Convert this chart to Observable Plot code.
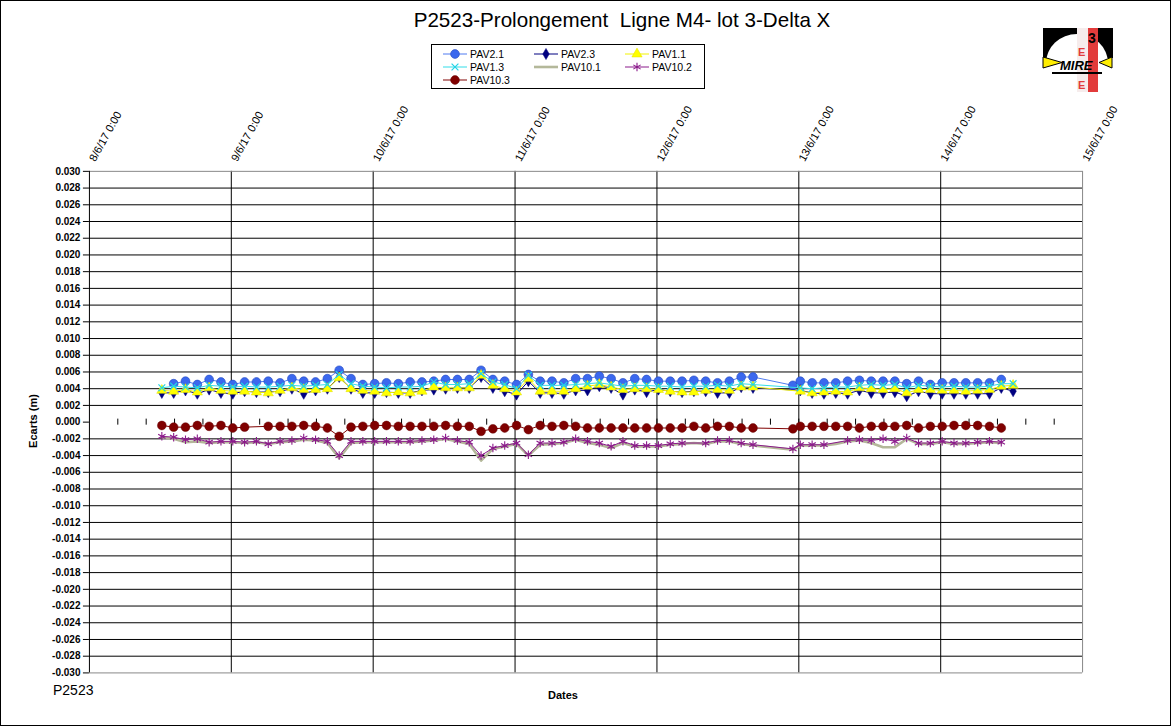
<!DOCTYPE html>
<html><head><meta charset="utf-8">
<script src="https://cdn.jsdelivr.net/npm/d3@7"></script>
<script src="https://cdn.jsdelivr.net/npm/@observablehq/plot@0.6"></script>
<style>
body{margin:0;background:#fff;font-family:Arial,"Liberation Sans",sans-serif;}
#wrap{position:relative;width:1169px;height:724px;border:1px solid #000;overflow:hidden;background:#fff;}
#chart{position:absolute;left:-1px;top:-1px;}
.abs{position:absolute;white-space:pre;color:#000;}
</style></head>
<body>
<div id="wrap">
  <div id="chart"></div>
  <div class="abs" id="title" style="left:321px;width:600px;top:7px;text-align:center;font-size:20.6px;">P2523-Prolongement  Ligne M4- lot 3-Delta X</div>
  <div class="abs" style="left:52px;top:681px;font-size:14px;">P2523</div>
  <div class="abs" style="left:512px;width:100px;top:688px;text-align:center;font-size:11px;font-weight:bold;">Dates</div>
  <div class="abs" style="left:-18px;width:100px;top:414px;text-align:center;font-size:11px;font-weight:bold;transform:rotate(-90deg);">Ecarts (m)</div>
  <svg id="legend" class="abs" style="left:430px;top:43px;" width="275" height="46"></svg>
  <svg class="abs" style="left:1041px;top:26px;" width="74" height="70" viewBox="1042 27 74 70">
    <rect x="1043" y="28" width="70" height="30" fill="#000"/>
    <ellipse cx="1077" cy="63" rx="31" ry="29" fill="#fff"/>
    <rect x="1043" y="58" width="70" height="36" fill="#fff"/>
    <rect x="1077" y="28" width="11" height="64" fill="#f6ecec"/>
    <rect x="1088" y="28" width="10" height="64" fill="#e23b3b"/>
    <text x="1088" y="43" font-size="14" font-weight="bold" font-family="Arial" fill="#000">3</text>
    <text x="1078" y="56" font-size="11" font-weight="bold" font-family="Arial" fill="#e23b3b">E</text>
    <text x="1078" y="89" font-size="11" font-weight="bold" font-family="Arial" fill="#e23b3b">E</text>
    <polygon points="1043,57 1043,68 1062,62.5" fill="#ffee00" stroke="#000" stroke-width="1"/>
    <polygon points="1112,57 1112,68 1099,62.5" fill="#ffee00" stroke="#000" stroke-width="1"/>
    <text x="1060" y="70" font-size="13" font-weight="bold" font-style="italic" font-family="Arial" fill="#000">MIRE</text>
    <rect x="1052" y="72" width="50" height="2" fill="#000"/>
  </svg>
</div>
<script>
// ---------- data ----------
const times = [
"2017-06-08 12:15","2017-06-08 14:15","2017-06-08 16:15","2017-06-08 18:15","2017-06-08 20:15","2017-06-08 22:15",
"2017-06-09 00:15","2017-06-09 02:15","2017-06-09 04:15","2017-06-09 06:15","2017-06-09 08:15","2017-06-09 10:15","2017-06-09 12:15","2017-06-09 14:15","2017-06-09 16:15","2017-06-09 18:15","2017-06-09 20:15","2017-06-09 22:15",
"2017-06-10 00:15","2017-06-10 02:15","2017-06-10 04:15","2017-06-10 06:15","2017-06-10 08:15","2017-06-10 10:15","2017-06-10 12:15","2017-06-10 14:15","2017-06-10 16:15","2017-06-10 18:15","2017-06-10 20:15","2017-06-10 22:15",
"2017-06-11 00:15","2017-06-11 02:15","2017-06-11 04:15","2017-06-11 06:15","2017-06-11 08:15","2017-06-11 10:15","2017-06-11 12:15","2017-06-11 14:15","2017-06-11 16:15","2017-06-11 18:15","2017-06-11 20:15","2017-06-11 22:15",
"2017-06-12 00:15","2017-06-12 02:15","2017-06-12 04:15","2017-06-12 06:15","2017-06-12 08:15","2017-06-12 10:15","2017-06-12 12:15","2017-06-12 14:15","2017-06-12 16:15",
"2017-06-12 23:00",
"2017-06-13 00:15","2017-06-13 02:15","2017-06-13 04:15","2017-06-13 06:15","2017-06-13 08:15","2017-06-13 10:15","2017-06-13 12:15","2017-06-13 14:15","2017-06-13 16:15","2017-06-13 18:15","2017-06-13 20:15","2017-06-13 22:15",
"2017-06-14 00:15","2017-06-14 02:15","2017-06-14 04:15","2017-06-14 06:15","2017-06-14 08:15","2017-06-14 10:15","2017-06-14 12:15"
];

const PAV2_1 = [
null,.0046,.0049,.0045,.0051,.0048,
.0045,.0048,.0048,.0049,.0047,.0052,.0049,.0048,.0052,.0062,.0052,.0045,
.0046,.0047,.0046,.0048,.0048,.0049,.0051,.0051,.0051,.0062,.0051,.0049,
.0045,.0057,.0049,.0049,.0047,.0052,.0052,.0055,.0052,.0047,.0052,.0051,
.0049,.0049,.0049,.0050,.0049,.0047,.0049,.0054,.0054,
.0044,
.0049,.0047,.0047,.0047,.0049,.0050,.0049,.0049,.0049,.0046,.0049,.0045,
.0047,.0047,.0047,.0047,.0047,.0051,null];

const PAV2_3 = [
.0035,.0035,.0038,.0034,.0039,.0035,
.0034,.0037,.0036,.0036,.0037,.0040,.0034,.0038,.0040,.0054,.0040,.0035,
.0035,.0036,.0035,.0035,.0038,.0039,.0040,.0041,.0041,.0054,.0041,.0037,
.0033,.0049,.0035,.0035,.0034,.0038,.0038,.0043,.0041,.0033,.0039,.0036,
.0039,.0037,.0036,.0037,.0037,.0035,.0035,.0042,.0041,
null,
.0038,.0035,.0034,.0035,.0034,.0038,.0035,.0035,.0036,.0031,.0037,.0034,
.0034,.0034,.0034,.0034,.0034,.0041,.0037];

const PAV1_1 = [
.0038,.0037,.0039,.0036,.0041,.0038,
.0037,.0037,.0036,.0035,.0038,.0041,.0039,.0039,.0040,.0053,.0040,.0038,
.0037,.0035,.0036,.0035,.0037,.0042,.0041,.0041,.0041,.0056,.0044,.0040,
.0036,.0052,.0037,.0037,.0037,.0040,.0043,.0045,.0042,.0039,.0040,.0040,
.0039,.0037,.0036,.0036,.0038,.0039,.0038,.0042,.0042,
null,
.0037,.0035,.0036,.0037,.0036,.0041,.0040,.0039,.0040,.0035,.0039,.0039,
.0038,.0038,.0037,.0038,.0039,.0043,.0044];

const PAV1_3 = [
.0041,.0043,.0042,.0041,.0044,.0043,
.0042,.0043,.0042,.0042,.0043,.0044,.0043,.0044,.0045,.0057,.0046,.0043,
.0042,.0041,.0042,.0042,.0043,.0048,.0045,.0045,.0046,.0058,.0048,.0045,
.0040,.0056,.0044,.0044,.0044,.0045,.0046,.0047,.0045,.0043,.0044,.0044,
.0043,.0043,.0042,.0043,.0043,.0044,.0043,.0046,.0045,
null,
.0041,.0040,.0041,.0042,.0042,.0044,.0045,.0044,.0045,.0041,.0044,.0043,
.0042,.0043,.0042,.0042,.0043,.0046,.0046];

const PAV10_1 = [
-.0018,-.0020,-.0024,-.0023,-.0025,-.0024,
-.0024,-.0025,-.0024,-.0026,-.0024,-.0023,-.0021,-.0022,-.0025,-.0043,-.0025,-.0024,
-.0024,-.0024,-.0024,-.0024,-.0023,-.0022,-.0020,-.0023,-.0026,-.0046,-.0032,-.0029,
-.0026,-.0040,-.0027,-.0026,-.0025,-.0021,-.0025,-.0027,-.0031,-.0025,-.0029,-.0029,
-.0029,-.0027,-.0026,-.0025,-.0026,-.0023,-.0023,-.0026,-.0028,
-.0033,
-.0028,-.0028,-.0028,-.0026,-.0023,-.0022,-.0025,-.0030,-.0030,-.0020,-.0026,-.0026,
-.0024,-.0026,-.0026,-.0025,-.0024,-.0025,null];

const PAV10_2 = [
-.0017,-.0018,-.0021,-.0020,-.0024,-.0023,
-.0023,-.0024,-.0023,-.0026,-.0023,-.0022,-.0019,-.0021,-.0023,-.0040,-.0023,-.0023,
-.0023,-.0023,-.0023,-.0023,-.0022,-.0021,-.0019,-.0022,-.0024,-.0040,-.0031,-.0028,
-.0025,-.0039,-.0025,-.0025,-.0024,-.0020,-.0023,-.0025,-.0029,-.0023,-.0028,-.0028,
-.0028,-.0026,-.0025,null,-.0025,-.0022,-.0022,-.0025,-.0027,
-.0032,
-.0027,-.0027,-.0027,null,-.0022,-.0021,-.0022,-.0020,-.0023,-.0019,-.0025,-.0025,
-.0023,-.0025,-.0025,-.0024,-.0023,-.0024,null];

const PAV10_3 = [
-.0004,-.0006,-.0006,-.0004,-.0005,-.0004,
-.0007,-.0006,null,-.0005,-.0005,-.0005,-.0004,-.0005,-.0007,-.0017,-.0006,-.0005,
-.0004,-.0004,-.0005,-.0005,-.0005,-.0005,-.0004,-.0005,-.0005,-.0011,-.0008,-.0007,
-.0004,-.0009,-.0004,-.0005,-.0004,-.0005,-.0007,-.0007,-.0007,-.0007,-.0007,-.0007,
-.0007,-.0007,-.0007,-.0005,-.0007,-.0005,-.0005,-.0007,-.0007,
-.0008,
-.0005,-.0005,-.0005,-.0005,-.0005,-.0007,-.0005,-.0005,-.0005,-.0004,-.0007,-.0005,
-.0005,-.0004,-.0004,-.0004,-.0005,-.0007,null];

const seriesNames = ["PAV2.1","PAV2.3","PAV1.1","PAV1.3","PAV10.1","PAV10.2","PAV10.3"];
const seriesValues = [PAV2_1, PAV2_3, PAV1_1, PAV1_3, PAV10_1, PAV10_2, PAV10_3];

const dayTicks = ["2017-06-08","2017-06-09","2017-06-10","2017-06-11","2017-06-12","2017-06-13","2017-06-14","2017-06-15"];
const dayLabels = ["8/6/17 0:00","9/6/17 0:00","10/6/17 0:00","11/6/17 0:00","12/6/17 0:00","13/6/17 0:00","14/6/17 0:00","15/6/17 0:00"];
const yTicks = [0.030,0.028,0.026,0.024,0.022,0.020,0.018,0.016,0.014,0.012,0.010,0.008,0.006,0.004,0.002,0,
 -0.002,-0.004,-0.006,-0.008,-0.010,-0.012,-0.014,-0.016,-0.018,-0.020,-0.022,-0.024,-0.026,-0.028,-0.030];

// ---------- styles ----------
const styles = {
  "PAV2.1": {line:"#4f7bf0", lw:1, symbol:"circle", r:4.4, fill:"#3b68ee", stroke:"#2246c0", sw:0.6},
  "PAV2.3": {line:"#000080", lw:1, symbol:"diamond", r:3.4, fill:"#000080", stroke:"#000080", sw:0.5},
  "PAV1.1": {line:"#f2f200", lw:1, symbol:"triangle", r:3.8, fill:"#ffff00", stroke:"#e0e000", sw:0.5},
  "PAV1.3": {line:"#33dde8", lw:1, symbol:"times", r:3.2, fill:"none", stroke:"#22d4e6", sw:1.2},
  "PAV10.1": {line:"#b4b89a", lw:2.6, symbol:null},
  "PAV10.2": {line:"#8b1a8b", lw:1, symbol:"asterisk", r:4, fill:"none", stroke:"#8b1a8b", sw:1.1},
  "PAV10.3": {line:"#800000", lw:1, symbol:"circle", r:4.4, fill:"#800000", stroke:"#660000", sw:0.5}
};

const parseT = d3.utcParse("%Y-%m-%d %H:%M");
const parseD = d3.utcParse("%Y-%m-%d");
const T = times.map(parseT);
const days = dayTicks.map(parseD);

const minor = [];
for (let k = 1; k < 35; k++) minor.push(new Date(days[0].getTime() + k * 4.8 * 3600e3));

const marks = [
  Plot.ruleY(yTicks.filter(v => Math.abs(v) > 1e-9 && Math.abs(v) < 0.0299), {stroke:"#000", strokeWidth:1}),
  Plot.ruleX(days.slice(1, -1), {stroke:"#000", strokeWidth:1}),
  Plot.ruleY([0.030, -0.030], {stroke:"#888", strokeWidth:1}),
  Plot.ruleX([days[days.length-1]], {stroke:"#888", strokeWidth:1}),
  Plot.ruleX([days[0]], {stroke:"#000", strokeWidth:1}),
  Plot.ruleX(minor, {y1:-0.00036, y2:0.00036, stroke:"#000", strokeWidth:1}),
  Plot.axisY({ticks: yTicks, tickFormat: d => d.toFixed(3), tickSize:6, tickPadding:3, fontSize:10, fontWeight:"bold", label:null}),
  Plot.text(days, {x: d => d, text: (d, i) => dayLabels[i], frameAnchor:"top", rotate:-61, textAnchor:"start", dy:-13, dx:-1, fontSize:11})
];

seriesNames.forEach((name, si) => {
  const st = styles[name];
  const data = T.map((t, i) => ({t, v: seriesValues[si][i]})).filter(d => d.v != null);
  marks.push(Plot.line(data, {x:"t", y:"v", stroke: st.line, strokeWidth: st.lw}));
  if (st.symbol) marks.push(Plot.dot(data, {x:"t", y:"v", symbol: st.symbol, r: st.r, fill: st.fill, stroke: st.stroke, strokeWidth: st.sw}));
});

const chart = Plot.plot({
  width: 1171, height: 726,
  marginLeft: 89, marginRight: 88, marginTop: 171, marginBottom: 53,
  x: {type:"utc", domain:[days[0], days[days.length-1]], axis:null},
  y: {domain:[-0.030, 0.030], axis:null},
  style: {fontFamily:"Arial, 'Liberation Sans', sans-serif", color:"#000", background:"transparent"},
  marks
});
document.getElementById("chart").appendChild(chart);

// ---------- legend ----------
const leg = d3.select("#legend");
leg.append("rect").attr("x",0.5).attr("y",0.5).attr("width",273).attr("height",44).attr("fill","#fff").attr("stroke","#000");
const colX = [12, 103, 194];
const rowY = [10, 23, 36];
seriesNames.forEach((name, i) => {
  const st = styles[name];
  const cx = colX[i % 3], cy = rowY[Math.floor(i / 3)];
  const g = leg.append("g");
  g.append("line").attr("x1", cx).attr("x2", cx + 24).attr("y1", cy).attr("y2", cy).attr("stroke", st.line).attr("stroke-width", st.lw);
  if (st.symbol) {
    const symMap = {circle:d3.symbolCircle, diamond:d3.symbolDiamond, triangle:d3.symbolTriangle, times:d3.symbolTimes, asterisk:d3.symbolAsterisk};
    g.append("path").attr("transform", `translate(${cx + 12},${cy})`)
      .attr("d", d3.symbol(symMap[st.symbol], Math.PI * st.r * st.r)())
      .attr("fill", st.fill).attr("stroke", st.stroke).attr("stroke-width", st.sw);
  }
  g.append("text").attr("x", cx + 27).attr("y", cy + 4).attr("font-size", 10.5).attr("font-family", "Arial, 'Liberation Sans', sans-serif").text(name);
});
</script>
</body></html>
